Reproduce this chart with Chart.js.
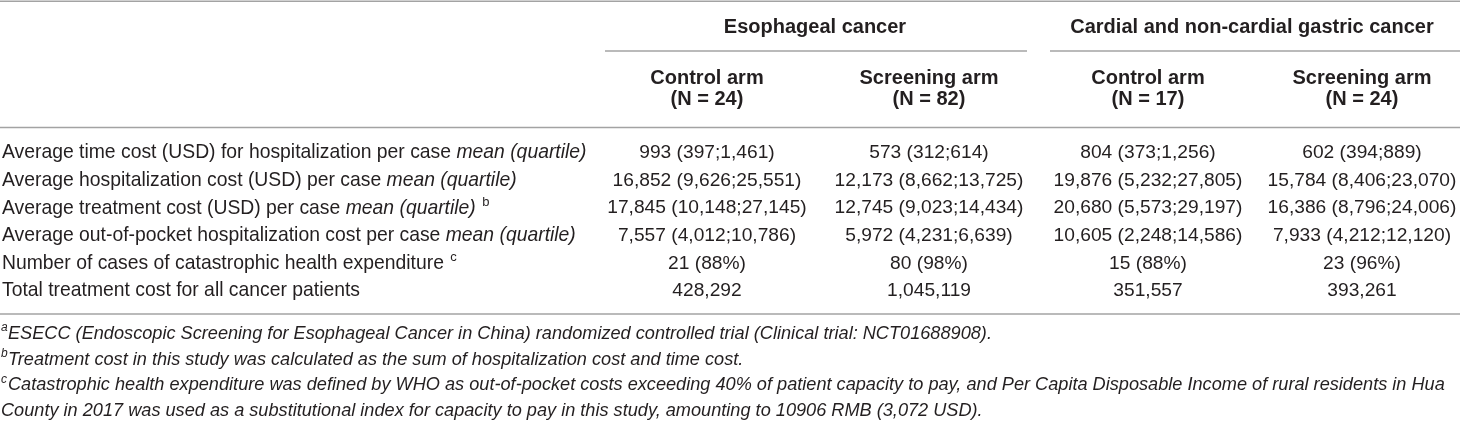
<!DOCTYPE html>
<html>
<head>
<meta charset="utf-8">
<script src="https://cdn.jsdelivr.net/npm/chart.js@4/dist/chart.umd.min.js"></script>
<style>
  html, body { margin: 0; padding: 0; background: #fff; }
  #wrap { width: 1460px; height: 423px; }
</style>
</head>
<body>
<div id="wrap"><canvas id="tbl" width="1460" height="423"></canvas></div>
<script>
  // ---- table content ----
  const groupHeaders = ["Esophageal cancer", "Cardial and non-cardial gastric cancer"];
  const armNames     = ["Control arm", "Screening arm", "Control arm", "Screening arm"];
  const armCounts    = ["(N = 24)", "(N = 82)", "(N = 17)", "(N = 24)"];

  const rowLabels = [
    "Average time cost (USD) for hospitalization per case",
    "Average hospitalization cost (USD) per case",
    "Average treatment cost (USD) per case",
    "Average out-of-pocket hospitalization cost per case",
    "Number of cases of catastrophic health expenditure",
    "Total treatment cost for all cancer patients"
  ];
  const rowLabelItalic = ["mean (quartile)", "mean (quartile)", "mean (quartile)", "mean (quartile)", "", ""];
  const rowLabelSup    = ["", "", "b", "", "c", ""];

  const esoControl   = ["993 (397;1,461)", "16,852 (9,626;25,551)", "17,845 (10,148;27,145)", "7,557 (4,012;10,786)", "21 (88%)", "428,292"];
  const esoScreening = ["573 (312;614)", "12,173 (8,662;13,725)", "12,745 (9,023;14,434)", "5,972 (4,231;6,639)", "80 (98%)", "1,045,119"];
  const gasControl   = ["804 (373;1,256)", "19,876 (5,232;27,805)", "20,680 (5,573;29,197)", "10,605 (2,248;14,586)", "15 (88%)", "351,557"];
  const gasScreening = ["602 (394;889)", "15,784 (8,406;23,070)", "16,386 (8,796;24,006)", "7,933 (4,212;12,120)", "23 (96%)", "393,261"];

  const footMarks = ["a", "b", "c", ""];
  const footTexts = [
    "ESECC (Endoscopic Screening for Esophageal Cancer in China) randomized controlled trial (Clinical trial: NCT01688908).",
    "Treatment cost in this study was calculated as the sum of hospitalization cost and time cost.",
    "Catastrophic health expenditure was defined by WHO as out-of-pocket costs exceeding 40% of patient capacity to pay, and Per Capita Disposable Income of rural residents in Hua",
    "County in 2017 was used as a substitutional index for capacity to pay in this study, amounting to 10906 RMB (3,072 USD)."
  ];

  // ---- layout (in scale units) ----
  const colCenters   = [707, 929, 1148, 1362];
  const groupCenters = [815, 1252];
  const groupSpans   = [[605, 1027], [1050, 1460]];
  const firstRowY    = 153;
  const rowStep      = 27.6;

  const FONT = "'Liberation Sans', Arial, Helvetica, sans-serif";
  const INK  = "#231f20";
  const RULE = "#a3a3a3";

  const valueCols = [esoControl, esoScreening, gasControl, gasScreening];

  // one invisible point per cell, positioned through the chart scales
  const datasets = valueCols.map(function (col, j) {
      return {
          label: armNames[j],
          data: col.map(function (v, i) { return { x: colCenters[j], y: firstRowY + i * rowStep, text: v }; }),
          pointRadius: 0,
          showLine: false
      };
  });
  datasets.unshift({
      label: "labels",
      data: rowLabels.map(function (v, i) { return { x: 2, y: firstRowY + i * rowStep, text: v, it: rowLabelItalic[i], sup: rowLabelSup[i] }; }),
      pointRadius: 0,
      showLine: false
  });

  function hRule(ctx, xs, ys, x0, x1, y) {
      ctx.beginPath();
      ctx.moveTo(xs.getPixelForValue(x0), ys.getPixelForValue(y));
      ctx.lineTo(xs.getPixelForValue(x1), ys.getPixelForValue(y));
      ctx.stroke();
  }

  const tablePlugin = {
      id: "tablePlugin",
      afterDatasetsDraw: function (chart) {
          const ctx = chart.ctx;
          const xs = chart.scales.x, ys = chart.scales.y;
          ctx.save();

          // rules
          ctx.strokeStyle = RULE;
          ctx.lineWidth = 1.6;
          hRule(ctx, xs, ys, 0, 1460, 1.2);
          hRule(ctx, xs, ys, groupSpans[0][0], groupSpans[0][1], 51);
          hRule(ctx, xs, ys, groupSpans[1][0], groupSpans[1][1], 51);
          hRule(ctx, xs, ys, 0, 1460, 127.5);
          hRule(ctx, xs, ys, 0, 1460, 314);

          ctx.fillStyle = INK;
          ctx.textBaseline = "middle";

          // header
          ctx.textAlign = "center";
          ctx.font = "bold 20px " + FONT;
          for (let g = 0; g < groupHeaders.length; g++) {
              ctx.fillText(groupHeaders[g], xs.getPixelForValue(groupCenters[g]), ys.getPixelForValue(27));
          }
          for (let j = 0; j < armNames.length; j++) {
              ctx.fillText(armNames[j], xs.getPixelForValue(colCenters[j]), ys.getPixelForValue(78));
              ctx.fillText(armCounts[j], xs.getPixelForValue(colCenters[j]), ys.getPixelForValue(99));
          }

          // body cells
          ctx.font = "19.2px " + FONT;
          for (let d = 1; d < chart.data.datasets.length; d++) {
              const meta = chart.getDatasetMeta(d);
              meta.data.forEach(function (el, i) {
                  ctx.fillText(chart.data.datasets[d].data[i].text, el.x, el.y);
              });
          }

          // row labels with italic part and superscript
          ctx.textAlign = "left";
          const lm = chart.getDatasetMeta(0);
          lm.data.forEach(function (el, i) {
              const row = chart.data.datasets[0].data[i];
              let x = el.x;
              ctx.font = "19.35px " + FONT;
              ctx.fillText(row.text, x, el.y);
              x += ctx.measureText(row.text + " ").width;
              if (row.it) {
                  ctx.font = "italic 19.35px " + FONT;
                  ctx.fillText(row.it, x, el.y);
                  x += ctx.measureText(row.it + " ").width;
              }
              if (row.sup) {
                  ctx.font = "13px " + FONT;
                  ctx.fillText(row.sup, x + 1, el.y - 6);
              }
          });

          // footnotes: size chosen so the long line reaches its right end
          const footX = xs.getPixelForValue(8);
          ctx.font = "italic 18px " + FONT;
          const fs = 18 * (xs.getPixelForValue(1445) - footX) / ctx.measureText(footTexts[2]).width;
          for (let k = 0; k < footTexts.length; k++) {
              const y = ys.getPixelForValue(334 + k * 25.7);
              let x = k < 3 ? footX : xs.getPixelForValue(1);
              if (footMarks[k]) {
                  ctx.font = "italic 12px " + FONT;
                  ctx.fillText(footMarks[k], xs.getPixelForValue(1), y - 6);
              }
              ctx.font = "italic " + fs.toFixed(2) + "px " + FONT;
              ctx.fillText(footTexts[k], x, y);
          }
          ctx.restore();
      }
  };

  new Chart(document.getElementById("tbl"), {
      type: "scatter",
      data: { datasets: datasets },
      options: {
          responsive: false,
          animation: false,
          events: [],
          layout: { padding: 0 },
          plugins: { legend: { display: false }, tooltip: { enabled: false } },
          scales: {
              x: { type: "linear", min: 0, max: 1460, display: false },
              y: { type: "linear", min: 0, max: 423, reverse: true, display: false }
          }
      },
      plugins: [tablePlugin]
  });
</script>
</body>
</html>
